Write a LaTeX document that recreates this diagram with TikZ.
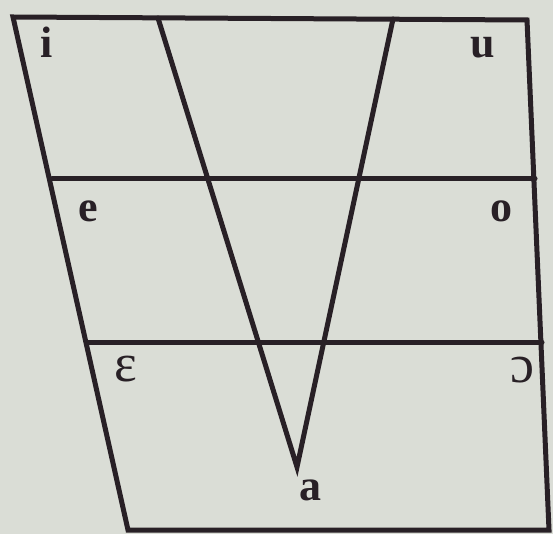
\documentclass[tikz,border=0pt]{standalone}
\usepackage{fontspec}
\setmainfont{Liberation Serif}
\definecolor{paper}{RGB}{218,221,214}
\definecolor{ink}{RGB}{40,32,38}
\begin{document}
\begin{tikzpicture}[x=1pt,y=-1pt,
  chartline/.style={draw=ink,line width=5pt,line cap=round,line join=miter},
  vowel/.style={text=ink,font=\fontsize{44}{44}\selectfont\bfseries,inner sep=0pt,anchor=base},
  vowelipa/.style={text=ink,font=\fontsize{54}{54}\selectfont,inner sep=0pt,anchor=base}]
\fill[paper] (0,0) rectangle (553,534);
\useasboundingbox (0,0) rectangle (553,534);
% corners
\coordinate (TL) at (13,17);
\coordinate (TR) at (527,20);
\coordinate (BR) at (549,530);
\coordinate (BL) at (128,530);
% horizontal lines
\coordinate (H1L) at (52,179);
\coordinate (H1R) at (535,179);
\coordinate (H2L) at (88,342);
\coordinate (H2R) at (542,342);
% V
\coordinate (VL) at (158,18);
\coordinate (VR) at (393,19);
\coordinate (VA) at (297,467);
\draw[chartline] (TL) -- (TR) -- (BR) -- (BL) -- cycle;
\draw[chartline] (H1L) -- (H1R);
\draw[chartline] (H2L) -- (H2R);
\draw[chartline] (VL) -- (VA) -- (VR);
% labels
\node[vowel] (i) at (47,58) {i};
\node[vowel] (u) at (483,58) {u};
\node[vowel] (e) at (88,222) {e};
\node[vowel] (o) at (501,222) {o};
\node[vowelipa] (eps) at (126,381) {ɛ};
\node[vowelipa] (oo) at (522,382) {ɔ};
\node[vowel] (a) at (310,500) {a};
\end{tikzpicture}
\end{document}
